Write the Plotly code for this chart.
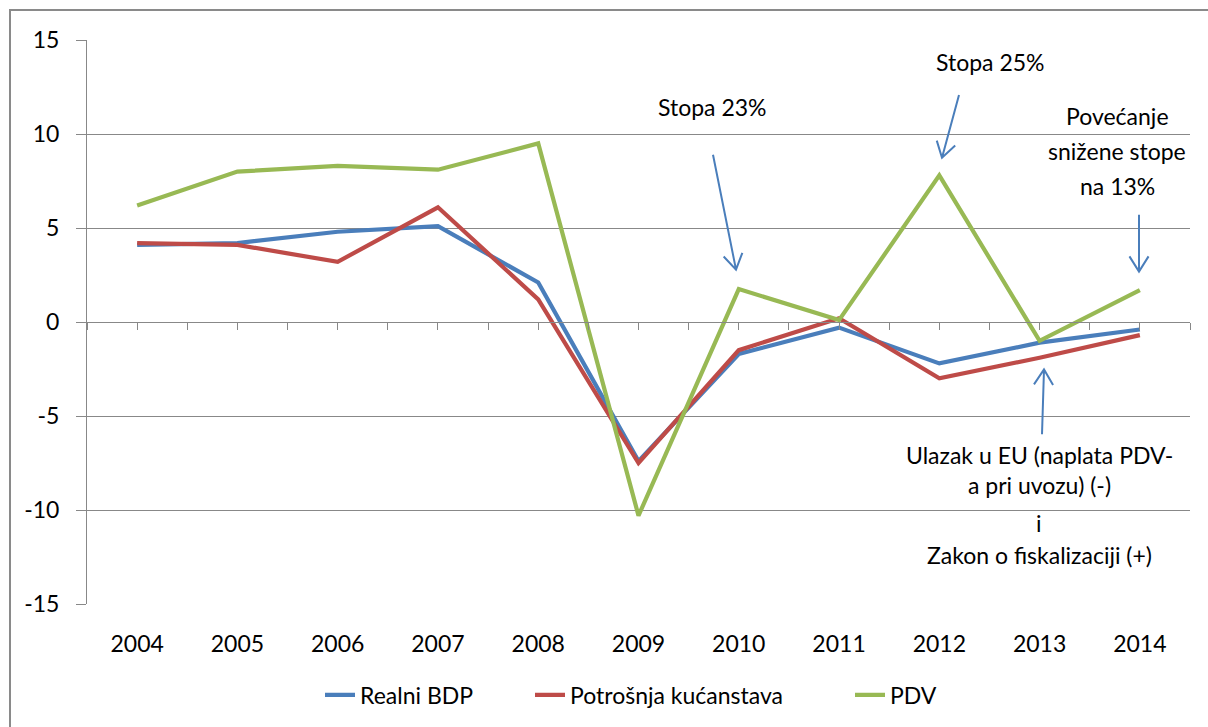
import plotly.graph_objects as go
import numpy as np

years = ["2004", "2005", "2006", "2007", "2008", "2009", "2010", "2011", "2012", "2013", "2014"]
realni_bdp = [4.1, 4.2, 4.8, 5.1, 2.1, -7.4, -1.7, -0.3, -2.2, -1.1, -0.4]
potrosnja = [4.2, 4.1, 3.2, 6.1, 1.2, -7.5, -1.5, 0.2, -3.0, -1.9, -0.7]
pdv = [6.2, 8.0, 8.3, 8.1, 9.5, -10.3, 1.75, 0.1, 7.8, -1.0, 1.7]

series_names = ["Realni BDP", "Potrošnja kućanstava", "PDV"]
series_colors = ["#4a7ebb", "#be4b48", "#98b954"]
y_ticks = [-15, -10, -5, 0, 5, 10, 15]
y_ticktext = ["-15", "-10", "-5", "0", "5", "10", "15"]

W, H = 1208, 727
L, R, T, B = 87, 1190, 40, 605
FONT = "Lato, 'Open Sans', sans-serif"
GRID = "#888888"
ARROW = "#4a7ebb"

def px(x):
    return (x - L) / (R - L)

def py(y):
    return (B - y) / (B - T)

fig = go.Figure()
legend_ids = ["legend", "legend2", "legend3"]
for name, vals, col, lg in zip(series_names, [realni_bdp, potrosnja, pdv], series_colors, legend_ids):
    fig.add_trace(go.Scatter(x=years, y=vals, mode="lines", name=name, legend=lg,
                             line=dict(color=col, width=4.2)))

# helper trace for the tick axis at zero
fig.add_trace(go.Scatter(x=[None], y=[None], xaxis="x2", showlegend=False, hoverinfo="skip"))

shapes = []
# outer chart border (only left/top visible)
shapes.append(dict(type="rect", xref="paper", yref="paper",
                   x0=px(10), x1=px(1230), y0=py(10), y1=py(760),
                   line=dict(color="#8a8a8a", width=2), fillcolor="rgba(0,0,0,0)", layer="above"))

def arrow(x0, y0, x1, y1, wing=18, ang=32):
    d = np.array([x0 - x1, y0 - y1], dtype=float)
    d /= np.linalg.norm(d)
    out = []
    for s in (1, -1):
        a = np.radians(ang * s)
        rot = np.array([d[0] * np.cos(a) - d[1] * np.sin(a), d[0] * np.sin(a) + d[1] * np.cos(a)])
        out.append((x1 + rot[0] * wing, y1 + rot[1] * wing))
    path = (f"M{px(x0)},{py(y0)} L{px(x1)},{py(y1)} "
            f"M{px(out[0][0])},{py(out[0][1])} L{px(x1)},{py(y1)} L{px(out[1][0])},{py(out[1][1])}")
    return dict(type="path", xref="paper", yref="paper", path=path,
                line=dict(color=ARROW, width=2), layer="above")

shapes.append(arrow(713, 155, 736, 270))
shapes.append(arrow(959, 95, 942, 158))
shapes.append(arrow(1139, 215, 1139, 272))
shapes.append(arrow(1042, 435, 1044, 370))

annotations = []
def label(text, x, y):
    annotations.append(dict(text=text, xref="paper", yref="paper", x=px(x), y=py(y),
                            xanchor="center", yanchor="middle", showarrow=False,
                            font=dict(family=FONT, size=23, color="#000000")))

label("Stopa 23%", 712, 107)
label("Stopa 25%", 990, 62)
label("Povećanje", 1117, 116)
label("snižene stope", 1117, 151)
label("na 13%", 1117, 186)
label("Ulazak u EU (naplata PDV-", 1039, 456)
label("a pri uvozu) (-)", 1039, 486)
label("i", 1039, 524)
label("Zakon o fiskalizaciji (+)", 1039, 556)

def leg(text_start):
    return dict(orientation="h", x=px(text_start - 41), xanchor="left", y=py(695), yanchor="middle",
                font=dict(family=FONT, size=23, color="#000000"),
                bgcolor="rgba(0,0,0,0)", borderwidth=0)

fig.update_layout(
    width=W, height=H,
    margin=dict(l=L, r=W - R, t=T, b=H - B, pad=0),
    paper_bgcolor="white", plot_bgcolor="white",
    font=dict(family=FONT, size=23, color="#000000"),
    showlegend=True,
    legend=leg(361), legend2=leg(571), legend3=leg(891),
    xaxis=dict(type="category", range=[-0.5, len(years) - 0.5], showgrid=False, zeroline=False,
               showline=False, ticks="", ticklabelstandoff=24,
               tickfont=dict(family=FONT, size=23, color="#000000")),
    xaxis2=dict(overlaying="x", anchor="free", position=0.5, side="bottom",
                range=[-0.5, len(years) - 0.5], tickmode="array",
                tickvals=list(np.arange(-0.5, len(years) - 0.5 + 0.01, 0.5)),
                showticklabels=False, ticks="outside", ticklen=7, tickcolor=GRID,
                showline=True, linecolor=GRID, linewidth=1, showgrid=False, zeroline=False),
    yaxis=dict(range=[-15, 15], tickmode="array", tickvals=y_ticks, ticktext=y_ticktext,
               showgrid=True, gridcolor=GRID, gridwidth=1, zeroline=False,
               showline=True, linecolor=GRID, linewidth=1,
               ticks="outside", ticklen=10, tickcolor=GRID, ticklabelstandoff=12,
               tickfont=dict(family=FONT, size=23, color="#000000")),
    shapes=shapes,
    annotations=annotations,
)

fig.write_html("out.html", config={"displayModeBar": False},
               post_script="document.body.style.margin='0';document.body.style.overflow='hidden';")
